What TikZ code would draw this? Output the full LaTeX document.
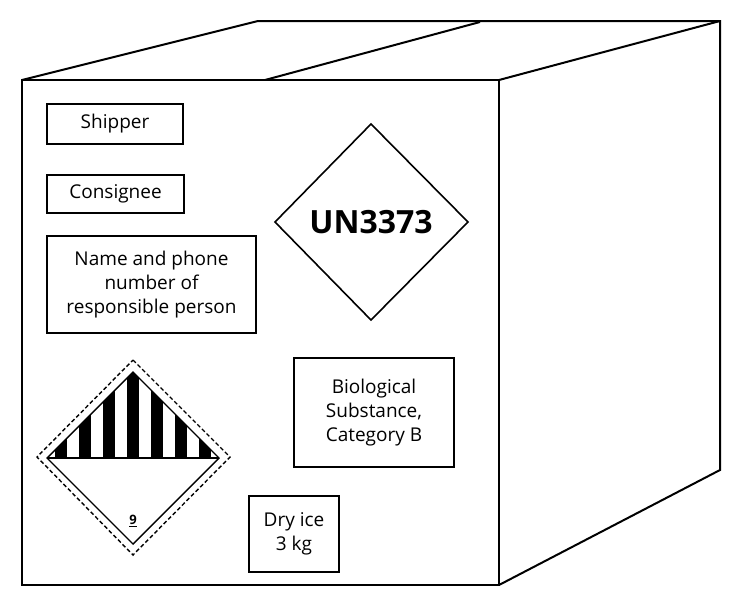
\documentclass[tikz,border=0pt]{standalone}
\usepackage{fontspec}
\setmainfont{Open Sans}
\begin{document}
\begin{tikzpicture}[x=1pt,y=-1pt,
  edge/.style={line width=2pt,line join=miter},
  lbl/.style={draw,line width=2pt,align=center,font=\fontsize{19}{24}\selectfont,inner sep=0pt}]
\useasboundingbox (0,0) rectangle (746,600);
% box
\draw[edge] (22,80) -- (499,80) -- (499,585) -- (22,585) -- cycle;
\draw[edge] (22,80) -- (258,21) -- (720,21) -- (720,470) -- (499,585);
\draw[edge] (499,80) -- (720,21);
\draw[edge] (265,80) -- (480,22);
% labels
\node[lbl,minimum width=136pt,minimum height=40pt] (ship) at (115,124) {Shipper};
\node[lbl,minimum width=137pt,minimum height=38pt] (cons) at (115.5,194) {Consignee};
\node[lbl,minimum width=209pt,minimum height=97pt] (name) at (151.5,284.5) {Name and phone\\number of\\responsible person};
\node[lbl,minimum width=160pt,minimum height=109pt] (bio) at (374,412.5) {Biological\\Substance,\\Category B};
\node[lbl,minimum width=90pt,minimum height=76pt] (dry) at (294,534) {Dry ice\\3 kg};
% UN diamond
\draw[line width=1.6pt] (371,124) -- (468,222) -- (371,320) -- (275,222) -- cycle;
\node[font=\fontsize{32}{36}\selectfont\bfseries] (un) at (371,222) {UN3373};
% class 9
\draw[line width=1.4pt,dash pattern=on 4pt off 2.5pt] (133,360) -- (230,457) -- (133,555) -- (37,457) -- cycle;
\begin{scope}
\clip (133,372) -- (219,458) -- (47,458) -- cycle;
\foreach \k in {-3,...,3} \fill (133+\k*24-6,360) rectangle (133+\k*24+6,460);
\end{scope}
\draw[line width=1.4pt] (133,372) -- (219,458) -- (133,544) -- (47,458) -- cycle;
\draw[line width=1.4pt] (47,458) -- (219,458);
\node[font=\fontsize{13}{14}\selectfont\bfseries] (nine) at (133,521) {\underline{9}};
\end{tikzpicture}
\end{document}
